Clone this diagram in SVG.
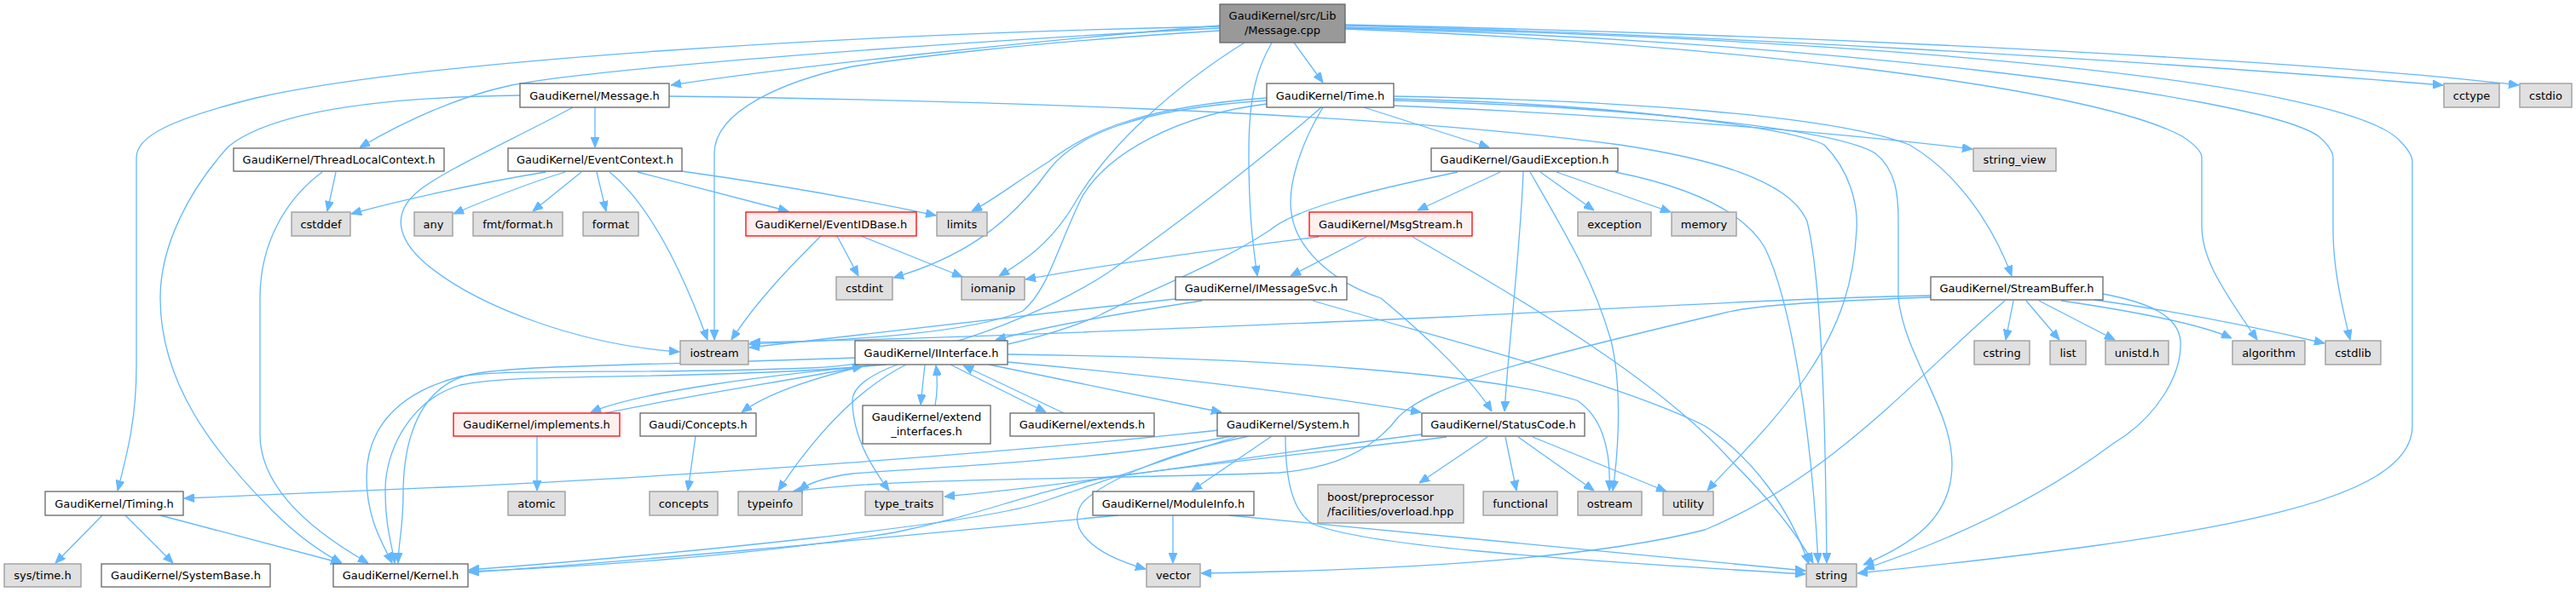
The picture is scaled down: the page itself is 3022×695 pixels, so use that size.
<svg xmlns="http://www.w3.org/2000/svg" width="3022" height="695" viewBox="0 0 3022 695">
<style>
text{font-family:"DejaVu Sans","Liberation Sans",sans-serif;font-size:13px;fill:#000;text-anchor:middle}
.w{fill:#fff;stroke:#666;stroke-width:1.3}
.g{fill:#e0e0e0;stroke:#999;stroke-width:1.3}
.r{fill:#fff0f0;stroke:#ff0000;stroke-width:1.3}
.m{fill:#999;stroke:#666;stroke-width:1.3}
.e path{fill:none;stroke:#63b8ff;stroke-width:1.3;marker-end:url(#a)}
</style>
<defs>
<marker id="a" viewBox="0 0 12 10" refX="12" refY="5" markerWidth="12" markerHeight="10" markerUnits="userSpaceOnUse" orient="auto">
<path d="M0,0 L12,5 L0,10 z" fill="#63b8ff" stroke="#63b8ff"/>
</marker>
</defs>
<rect width="3022" height="695" fill="#fff"/>
<g class="e" id="edges">
<!-- main -->
<path d="M1431,30 C1250,45 950,75 787,100"/>
<path d="M1431,33 C1100,50 700,80 600,100 C530,115 470,145 422,173"/>
<path d="M1431,31 C1000,40 500,70 300,115 C200,140 160,160 160,185 L160,430 C160,490 150,530 138,576"/>
<path d="M1431,36 C1200,50 1050,70 1000,78 C920,95 838,130 838,180 L838,399"/>
<path d="M1460,50 C1380,100 1300,170 1260,240 C1230,290 1195,310 1172,324"/>
<path d="M1492,50 C1475,80 1465,110 1465,180 C1465,250 1470,290 1475,324"/>
<path d="M1518,50 L1552,97"/>
<path d="M1578,30 C2000,40 2500,70 2866,100"/>
<path d="M1578,29 C2100,40 2700,70 2955,100"/>
<path d="M1578,32 C2200,45 2750,95 2815,165 Q2830,180 2830,190 L2830,500 C2830,590 2600,630 2179,673"/>
<path d="M1578,34 C2000,50 2450,100 2560,160 Q2583,175 2583,185 L2583,265 C2583,300 2600,330 2648,399"/>
<path d="M1578,33 C2100,45 2650,110 2720,160 Q2737,175 2737,185 L2737,270 C2737,310 2745,350 2757,399"/>
<!-- Message.h -->
<path d="M698,126 L698,173"/>
<path d="M610,112 C450,114 320,130 268,172 C220,225 188,290 188,350 C188,450 250,530 320,600 C345,625 370,645 401,661"/>
<path d="M672,126 C600,165 520,200 490,225 C460,250 465,280 500,310 C560,360 680,405 797,413"/>
<path d="M785,113 C1100,117 1600,130 1900,170 C2000,185 2100,210 2120,260 C2140,340 2142,560 2143,661"/>
<!-- ThreadLocalContext -->
<path d="M394,202 L384,248"/>
<path d="M378,202 C340,230 305,280 305,350 L305,510 C305,570 360,620 432,661"/>
<!-- EventContext -->
<path d="M640,202 C560,215 470,235 412,251"/>
<path d="M663,202 C620,215 570,235 532,251"/>
<path d="M682,202 L625,248"/>
<path d="M700,202 L711,248"/>
<path d="M715,202 C750,230 790,290 830,399"/>
<path d="M748,202 L925,248"/>
<path d="M800,201 C900,215 1000,232 1098,253"/>
<!-- EventIDBase -->
<path d="M963,277 C930,310 890,350 858,399"/>
<path d="M982,277 L1007,324"/>
<path d="M1010,277 L1129,325"/>
<!-- Time.h -->
<path d="M1486,115 C1350,125 1280,150 1230,190 C1190,215 1165,235 1140,248"/>
<path d="M1486,118 C1330,128 1260,160 1230,200 C1180,270 1120,305 1048,326"/>
<path d="M1486,122 C1380,135 1300,180 1270,230 C1240,290 1230,340 1200,365 C1130,395 960,400 879,404"/>
<path d="M1550,126 C1500,170 1400,250 1300,320 C1240,360 1100,425 950,432 C750,440 600,432 540,442 C470,460 430,500 430,560 C430,610 450,640 460,661"/>
<path d="M1600,126 L1747,173"/>
<path d="M1552,126 C1525,170 1510,220 1515,250 C1520,290 1560,330 1620,350 C1680,400 1730,450 1750,483"/>
<path d="M1635,124 C1900,135 2150,155 2314,175"/>
<path d="M1635,113 C1900,118 2150,135 2240,170 C2300,205 2340,270 2360,324"/>
<path d="M1635,118 C1900,125 2150,150 2200,180 C2225,200 2227,230 2227,260 L2227,350 C2235,420 2290,480 2290,545 C2290,610 2240,640 2186,663"/>
<path d="M1635,116 C1900,122 2100,150 2140,170 C2170,200 2180,240 2178,270 C2175,330 2160,380 2120,440 C2080,500 2030,545 2003,576"/>
<!-- GaudiException -->
<path d="M1760,202 L1663,247"/>
<path d="M1787,202 C1783,300 1770,400 1765,483"/>
<path d="M1795,202 C1840,280 1870,330 1890,400 C1902,450 1900,520 1892,576"/>
<path d="M1807,202 L1870,247"/>
<path d="M1826,202 L1960,249"/>
<path d="M1895,202 C1960,215 2040,240 2070,290 C2100,350 2125,500 2133,661"/>
<path d="M1710,202 C1600,225 1520,245 1490,270 C1430,310 1350,340 1290,370 C1200,410 1050,432 900,437 C700,445 600,440 540,452 C480,470 452,530 452,575 C452,620 460,640 463,661"/>
<!-- MsgStream -->
<path d="M1603,278 L1514,324"/>
<path d="M1547,278 C1450,290 1300,310 1203,328"/>
<path d="M1657,278 C1800,360 1950,450 2030,540 C2080,590 2110,630 2127,661"/>
<!-- IMessageSvc -->
<path d="M1410,353 C1300,370 1220,385 1168,399"/>
<path d="M1379,351 C1200,370 1000,395 879,408"/>
<path d="M1540,353 C1700,400 1900,450 2000,500 C2060,540 2100,600 2122,662"/>
<!-- StreamBuffer -->
<path d="M2362,353 L2353,399"/>
<path d="M2377,353 L2416,399"/>
<path d="M2392,353 L2481,399"/>
<path d="M2418,353 C2500,365 2580,380 2618,397"/>
<path d="M2457,352 C2550,365 2650,385 2727,403"/>
<path d="M2467,345 C2520,355 2555,370 2558,400 C2560,440 2530,490 2480,520 C2400,580 2300,630 2187,668"/>
<path d="M2352,353 C2250,440 2150,560 2000,622 C1850,660 1600,670 1409,673"/>
<path d="M2265,347 C2100,350 1900,362 1700,372 C1400,385 1100,398 880,402"/>
<path d="M2265,349 C2100,355 2050,360 2020,368 C1800,420 1680,450 1640,490 C1610,530 1560,550 1500,555 C1300,563 1050,560 930,577"/>
<!-- System.h -->
<path d="M1430,505 C1200,530 800,560 520,572 C400,578 300,582 216,585"/>
<path d="M1492,512 L1398,576"/>
<path d="M1452,512 C1350,545 1280,570 1220,590 C1150,615 800,650 550,669"/>
<path d="M1445,512 C1300,540 1100,548 1000,556 C970,560 950,566 937,576"/>
<path d="M1465,512 C1380,530 1300,560 1270,590 C1250,620 1280,650 1344,668"/>
<path d="M1508,512 C1508,560 1515,600 1540,615 C1600,640 1800,655 2118,674"/>
<!-- StatusCode -->
<path d="M1745,513 L1665,567"/>
<path d="M1766,513 L1779,576"/>
<path d="M1781,513 L1870,576"/>
<path d="M1798,513 L1955,577"/>
<path d="M1697,513 C1600,525 1500,535 1300,560 C1200,580 1150,605 1050,625 C900,650 700,665 550,671"/>
<path d="M1668,510 C1500,530 1300,565 1108,583"/>
<!-- IInterface -->
<path d="M1040,428 C900,440 750,460 693,484"/>
<path d="M1020,428 C950,445 900,462 870,484"/>
<path d="M1085,428 L1080,475"/>
<path d="M1115,428 L1227,484"/>
<path d="M1160,428 L1433,484"/>
<path d="M1182,425 C1400,445 1550,465 1667,484"/>
<path d="M1182,416 C1500,420 1750,440 1850,470 C1880,490 1890,530 1888,576"/>
<path d="M1063,428 C1000,460 950,520 913,576"/>
<path d="M1053,428 C1020,440 1000,455 1000,470 C1000,510 1020,545 1043,576"/>
<path d="M1003,420 C800,428 600,428 550,440 C490,455 473,520 473,580 C473,620 467,640 467,661"/>
<!-- implements / extend / extends / Concepts -->
<path d="M710,485 C820,462 920,448 1012,430"/>
<path d="M630,512 L630,576"/>
<path d="M1097,476 C1100,460 1100,445 1098,429"/>
<path d="M1248,485 L1130,429"/>
<path d="M816,512 L807,576"/>
<!-- ModuleInfo -->
<path d="M1312,605 C1100,625 800,655 550,672"/>
<path d="M1376,605 L1376,661"/>
<path d="M1442,605 C1700,630 1950,655 2118,670"/>
<!-- Timing -->
<path d="M120,605 L65,661"/>
<path d="M147,605 L203,661"/>
<path d="M188,605 L400,661"/>
</g>
<g id="n_main"><rect class="m" x="1431" y="5" width="147" height="45"/><text x="1504.5" y="23">GaudiKernel/src/Lib</text><text x="1504.5" y="40">/Message.cpp</text></g>
<g id="n_message"><rect class="w" x="610" y="98" width="175" height="28"/><text x="697.5" y="116.5">GaudiKernel/Message.h</text></g>
<g id="n_time"><rect class="w" x="1486" y="98" width="149" height="28"/><text x="1560.5" y="116.5">GaudiKernel/Time.h</text></g>
<g id="n_cctype"><rect class="g" x="2867" y="98" width="65" height="28"/><text x="2899.5" y="116.5">cctype</text></g>
<g id="n_cstdio"><rect class="g" x="2956" y="98" width="61" height="28"/><text x="2986.5" y="116.5">cstdio</text></g>
<g id="n_tlc"><rect class="w" x="274" y="174" width="247" height="27"/><text x="397.5" y="192">GaudiKernel/ThreadLocalContext.h</text></g>
<g id="n_evctx"><rect class="w" x="596" y="174" width="204" height="27"/><text x="698" y="192">GaudiKernel/EventContext.h</text></g>
<g id="n_gexc"><rect class="w" x="1679" y="174" width="219" height="27"/><text x="1788.5" y="192">GaudiKernel/GaudiException.h</text></g>
<g id="n_sview"><rect class="g" x="2315" y="174" width="97" height="27"/><text x="2363.5" y="192">string_view</text></g>
<g id="n_cstddef"><rect class="g" x="342" y="249" width="69" height="28"/><text x="376.5" y="267.5">cstddef</text></g>
<g id="n_any"><rect class="g" x="486" y="249" width="45" height="28"/><text x="508.5" y="267.5">any</text></g>
<g id="n_fmt"><rect class="g" x="555" y="249" width="105" height="28"/><text x="607.5" y="267.5">fmt/format.h</text></g>
<g id="n_format"><rect class="g" x="684" y="249" width="65" height="28"/><text x="716.5" y="267.5">format</text></g>
<g id="n_evid"><rect class="r" x="875" y="249" width="200" height="28"/><text x="975" y="267.5">GaudiKernel/EventIDBase.h</text></g>
<g id="n_limits"><rect class="g" x="1099" y="249" width="59" height="28"/><text x="1128.5" y="267.5">limits</text></g>
<g id="n_msgstream"><rect class="r" x="1536" y="249" width="191" height="28"/><text x="1631.5" y="267.5">GaudiKernel/MsgStream.h</text></g>
<g id="n_exception"><rect class="g" x="1851" y="249" width="86" height="28"/><text x="1894" y="267.5">exception</text></g>
<g id="n_memory"><rect class="g" x="1961" y="249" width="76" height="28"/><text x="1999" y="267.5">memory</text></g>
<g id="n_cstdint"><rect class="g" x="981" y="325" width="66" height="27"/><text x="1014" y="343">cstdint</text></g>
<g id="n_iomanip"><rect class="g" x="1128" y="325" width="74" height="27"/><text x="1165" y="343">iomanip</text></g>
<g id="n_imsgsvc"><rect class="w" x="1379" y="325" width="201" height="27"/><text x="1479.5" y="343">GaudiKernel/IMessageSvc.h</text></g>
<g id="n_sbuf"><rect class="w" x="2265" y="325" width="202" height="27"/><text x="2366" y="343">GaudiKernel/StreamBuffer.h</text></g>
<g id="n_iostream"><rect class="g" x="798" y="400" width="80" height="28"/><text x="838" y="418.5">iostream</text></g>
<g id="n_iinterface"><rect class="w" x="1003" y="400" width="179" height="28"/><text x="1092.5" y="418.5">GaudiKernel/IInterface.h</text></g>
<g id="n_cstring"><rect class="g" x="2316" y="400" width="65" height="28"/><text x="2348.5" y="418.5">cstring</text></g>
<g id="n_list"><rect class="g" x="2405" y="400" width="42" height="28"/><text x="2426" y="418.5">list</text></g>
<g id="n_unistd"><rect class="g" x="2470" y="400" width="74" height="28"/><text x="2507" y="418.5">unistd.h</text></g>
<g id="n_algorithm"><rect class="g" x="2619" y="400" width="85" height="28"/><text x="2661.5" y="418.5">algorithm</text></g>
<g id="n_cstdlib"><rect class="g" x="2728" y="400" width="65" height="28"/><text x="2760.5" y="418.5">cstdlib</text></g>
<g id="n_implements"><rect class="r" x="532" y="485" width="195" height="27"/><text x="629.5" y="503">GaudiKernel/implements.h</text></g>
<g id="n_concepts_h"><rect class="w" x="751" y="485" width="136" height="27"/><text x="819" y="503">Gaudi/Concepts.h</text></g>
<g id="n_extif"><rect class="w" x="1012" y="476" width="150" height="45"/><text x="1087" y="494">GaudiKernel/extend</text><text x="1087" y="511">_interfaces.h</text></g>
<g id="n_extends"><rect class="w" x="1185" y="485" width="169" height="27"/><text x="1269.5" y="503">GaudiKernel/extends.h</text></g>
<g id="n_system"><rect class="w" x="1428" y="485" width="166" height="27"/><text x="1511" y="503">GaudiKernel/System.h</text></g>
<g id="n_statuscode"><rect class="w" x="1668" y="485" width="191" height="27"/><text x="1763.5" y="503">GaudiKernel/StatusCode.h</text></g>
<g id="n_timing"><rect class="w" x="53" y="577" width="162" height="28"/><text x="134" y="595.5">GaudiKernel/Timing.h</text></g>
<g id="n_atomic"><rect class="g" x="596" y="577" width="67" height="28"/><text x="629.5" y="595.5">atomic</text></g>
<g id="n_concepts"><rect class="g" x="762" y="577" width="80" height="28"/><text x="802" y="595.5">concepts</text></g>
<g id="n_typeinfo"><rect class="g" x="866" y="577" width="75" height="28"/><text x="903.5" y="595.5">typeinfo</text></g>
<g id="n_typetraits"><rect class="g" x="1015" y="577" width="91" height="28"/><text x="1060.5" y="595.5">type_traits</text></g>
<g id="n_moduleinfo"><rect class="w" x="1282" y="577" width="189" height="28"/><text x="1376.5" y="595.5">GaudiKernel/ModuleInfo.h</text></g>
<g id="n_boost"><rect class="g" x="1546" y="569" width="171" height="45"/><text x="1557" y="588" style="text-anchor:start">boost/preprocessor</text><text x="1557" y="605" style="text-anchor:start">/facilities/overload.hpp</text></g>
<g id="n_functional"><rect class="g" x="1740" y="577" width="87" height="28"/><text x="1783.5" y="595.5">functional</text></g>
<g id="n_ostream"><rect class="g" x="1851" y="577" width="75" height="28"/><text x="1888.5" y="595.5">ostream</text></g>
<g id="n_utility"><rect class="g" x="1951" y="577" width="59" height="28"/><text x="1980.5" y="595.5">utility</text></g>
<g id="n_systime"><rect class="g" x="5" y="662" width="90" height="27"/><text x="50" y="680">sys/time.h</text></g>
<g id="n_sysbase"><rect class="w" x="119" y="662" width="198" height="27"/><text x="218" y="680">GaudiKernel/SystemBase.h</text></g>
<g id="n_kernel"><rect class="w" x="391" y="662" width="158" height="27"/><text x="470" y="680">GaudiKernel/Kernel.h</text></g>
<g id="n_vector"><rect class="g" x="1345" y="662" width="63" height="27"/><text x="1376.5" y="680">vector</text></g>
<g id="n_string"><rect class="g" x="2119" y="662" width="59" height="27"/><text x="2148.5" y="680">string</text></g>
</svg>
